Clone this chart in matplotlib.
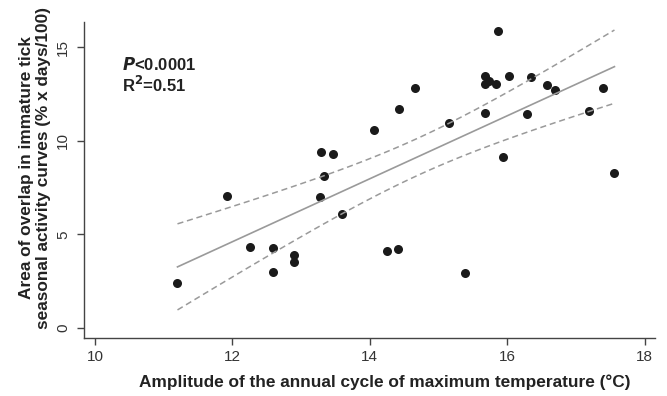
import matplotlib
matplotlib.use("Agg")
import matplotlib.pyplot as plt
import numpy as np

plt.rcParams['font.family'] = ['Liberation Sans', 'DejaVu Sans']

# amplitude of annual cycle of max temperature (C)
amplitude = [11.92, 13.29, 13.46, 13.33, 13.27, 14.06,
             15.86, 14.66, 14.42, 15.15, 15.67, 15.73, 15.67, 15.83, 16.02, 16.35,
             16.58, 16.69, 17.39, 15.67, 16.28, 17.19, 15.94, 17.56,
             13.59, 12.25, 12.59, 12.90, 12.90, 12.59, 11.20,
             14.25, 14.41, 15.39]
# area of overlap (% x days/100)
overlap = [7.05, 9.38, 9.29, 8.10, 7.02, 10.58,
           15.87, 12.80, 11.68, 10.93, 13.48, 13.21, 13.02, 13.02, 13.48, 13.43,
           13.00, 12.73, 12.84, 11.49, 11.43, 11.61, 9.13, 8.28,
           6.11, 4.33, 4.29, 3.88, 3.53, 3.01, 2.39,
           4.11, 4.20, 2.96]

x = np.array(amplitude)
y = np.array(overlap)

# linear fit with 95% confidence band of the mean
n = len(x)
slope, intercept = np.polyfit(x, y, 1)
resid = y - (slope * x + intercept)
s = np.sqrt(np.sum(resid ** 2) / (n - 2))
xs = np.linspace(x.min(), x.max(), 100)
fit = slope * xs + intercept
se = s * np.sqrt(1 / n + (xs - x.mean()) ** 2 / np.sum((x - x.mean()) ** 2))
t = 2.037  # t(0.975, 32)

fig = plt.figure(figsize=(6.67, 3.96), dpi=100)
ax = fig.add_axes([0.126, 0.1465, 0.856, 0.7985])

ax.plot(xs, fit, color='#9a9a9a', lw=1.2, zorder=2)
ax.plot(xs, fit + t * se, color='#9a9a9a', lw=1.1, ls=(0, (4, 2.5)), zorder=2)
ax.plot(xs, fit - t * se, color='#9a9a9a', lw=1.1, ls=(0, (4, 2.5)), zorder=2)
ax.plot(x, y, 'o', color='#1a1a1a', ms=6.5, mec='none', zorder=1)

ax.set_xlim(9.84, 18.15)
ax.set_ylim(-0.53, 16.36)
ax.set_xticks([10, 12, 14, 16, 18])
ax.set_yticks([0, 5, 10, 15])

for side in ['top', 'right']:
    ax.spines[side].set_visible(False)
for side in ['left', 'bottom']:
    ax.spines[side].set_color('#444444')
    ax.spines[side].set_linewidth(1.0)
ax.tick_params(direction='out', length=5, width=1, color='#444444',
               labelcolor='#333333', labelsize=11)
ax.tick_params(axis='y', pad=5)
plt.setp(ax.get_yticklabels(), rotation=90, va='center')

ax.set_xlabel('Amplitude of the annual cycle of maximum temperature (°C)',
              fontsize=12.4, fontweight='bold', color='#222222')
ax.xaxis.set_label_coords(0.527, -0.115)

fig.text(35 / 667, 1 - 168 / 396,
         'Area of overlap in immature tick\nseasonal activity curves (% x days/100)',
         rotation=90, ha='center', va='center', multialignment='center',
         fontsize=12.4, fontweight='bold', color='#222222', linespacing=1.1)

ax.text(0.066, 0.846, r'$\mathbfit{P}$<0.0001', transform=ax.transAxes,
        fontsize=12, fontweight='bold', color='#222222', va='baseline')
ax.text(0.066, 0.778, r'R$^\mathbf{2}$=0.51', transform=ax.transAxes,
        fontsize=12, fontweight='bold', color='#222222', va='baseline')

fig.savefig('out.png', dpi=100)
